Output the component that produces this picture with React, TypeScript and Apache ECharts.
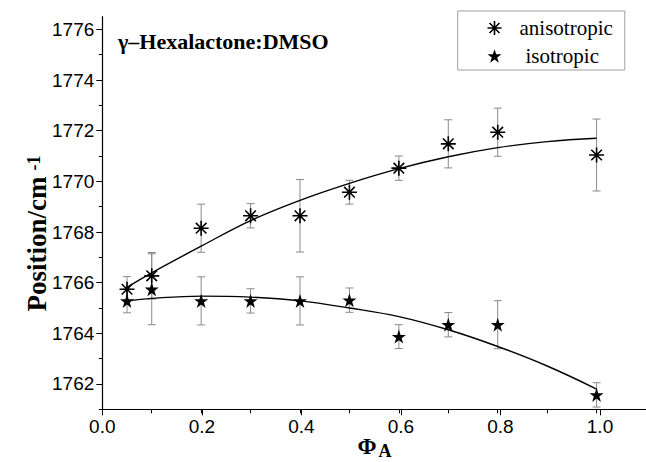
import React, { useEffect, useRef } from 'react';
import * as echarts from 'echarts';

// Volume fraction of component A
const phi = [0.05, 0.1, 0.2, 0.3, 0.4, 0.5, 0.6, 0.7, 0.8, 1.0];
// anisotropic band position (cm-1) and error
const aniso = [1765.74, 1766.27, 1768.15, 1768.64, 1768.64, 1769.57, 1770.52, 1771.48, 1771.94, 1771.04];
const anisoErr = [0.5, 0.92, 0.95, 0.48, 1.43, 0.47, 0.48, 0.95, 0.95, 1.42];
// isotropic band position (cm-1) and error
const iso = [1765.28, 1765.74, 1765.28, 1765.28, 1765.28, 1765.31, 1763.87, 1764.34, 1764.34, 1761.57];
const isoErr = [0.47, 1.4, 0.95, 0.48, 0.95, 0.48, 0.47, 0.48, 0.95, 0.48];
// fitted curves
const fitPhi = [0.05, 0.1, 0.2, 0.3, 0.4, 0.5, 0.6, 0.7, 0.8, 0.9, 1.0];
const anisoFit = [1765.82, 1766.39, 1767.44, 1768.45, 1769.25, 1769.92, 1770.5, 1770.97, 1771.33, 1771.57, 1771.7];
const isoFit = [1765.28, 1765.38, 1765.47, 1765.43, 1765.28, 1765.0, 1764.66, 1764.14, 1763.48, 1762.71, 1761.8];

const seriesNames = ['anisotropic', 'isotropic'];
const titleText = '\u03b3\u2013Hexalactone:DMSO';

const ASTERISK = 'path://M10,0L10,20M0,10L20,10M2.93,2.93L17.07,17.07M2.93,17.07L17.07,2.93';
const STAR = 'path://M10,0L12.35,7.1L19.8,7.1L13.8,11.6L16.1,18.8L10,14.3L3.9,18.8L6.2,11.6L0.2,7.1L7.65,7.1Z';

const SANS = '"Liberation Sans", Arial, sans-serif';
const SERIF = '"Liberation Serif", "Times New Roman", serif';

// layout
const L = 102.3;
const PXX = 497.7; // px per unit x
const PXY = 25.33; // px per unit y
const T0 = 16.7;

function errorBar(values: number[], errs: number[]) {
  return phi.map((x, i) => [x, values[i] - errs[i], values[i] + errs[i]]);
}

function renderErr(params: any, api: any) {
  const x = api.value(0);
  const lo = api.coord([x, api.value(1)]);
  const hi = api.coord([x, api.value(2)]);
  const w = 4;
  const style = { stroke: '#8a8a8a', lineWidth: 1, fill: null };
  return {
    type: 'group',
    children: [
      { type: 'line', shape: { x1: lo[0], y1: lo[1], x2: hi[0], y2: hi[1] }, style },
      { type: 'line', shape: { x1: lo[0] - w, y1: lo[1], x2: lo[0] + w, y2: lo[1] }, style },
      { type: 'line', shape: { x1: hi[0] - w, y1: hi[1], x2: hi[0] + w, y2: hi[1] }, style },
    ],
  };
}

export default function App() {
  const ref = useRef<HTMLDivElement>(null);
  useEffect(() => {
    if (!ref.current) return;
    const chart = echarts.init(ref.current, null, { renderer: 'svg' });
    const axisLineStyle = { color: '#000', width: 1.2 };
    const tickStyle = { color: '#000', width: 1 };
    const option: any = {
      animation: false,
      backgroundColor: '#fff',
      grid: [
        { left: L, top: T0, width: 1.1 * PXX, height: 15.5 * PXY },
        { left: L, top: T0 + 0.5 * PXY, width: 1.1 * PXX, height: 15 * PXY },
        { left: L, top: T0 + 0.5 * PXY, width: 1.0 * PXX, height: 15 * PXY },
        { left: L, top: T0 + 0.5 * PXY, width: 1.1 * PXX, height: 14 * PXY },
      ],
      xAxis: [
        {
          gridIndex: 0, type: 'value', min: 0, max: 1.1,
          axisLine: { show: true, onZero: false, lineStyle: axisLineStyle },
          axisTick: { show: false }, axisLabel: { show: false }, splitLine: { show: false },
        },
        {
          gridIndex: 1, type: 'value', min: 0, max: 1.1, interval: 0.1,
          axisLine: { show: false, onZero: false },
          axisTick: { show: true, length: 4, lineStyle: tickStyle },
          axisLabel: { show: false }, splitLine: { show: false },
        },
        {
          gridIndex: 2, type: 'value', min: 0, max: 1.0, interval: 0.2,
          axisLine: { show: false, onZero: false },
          axisTick: { show: true, length: 6, lineStyle: tickStyle },
          axisLabel: {
            show: true, margin: 8, color: '#000', fontSize: 19, fontFamily: SANS,
            formatter: (v: number) => v.toFixed(1),
          },
          splitLine: { show: false },
        },
        { gridIndex: 3, type: 'value', min: 0, max: 1.1, show: false },
      ],
      yAxis: [
        {
          gridIndex: 0, type: 'value', min: 1761, max: 1776.5,
          axisLine: { show: true, onZero: false, lineStyle: axisLineStyle },
          axisTick: { show: false }, axisLabel: { show: false }, splitLine: { show: false },
        },
        {
          gridIndex: 1, type: 'value', min: 1761, max: 1776, interval: 1,
          axisLine: { show: false, onZero: false },
          axisTick: { show: true, length: 3.5, lineStyle: tickStyle },
          axisLabel: { show: false }, splitLine: { show: false },
        },
        { gridIndex: 2, type: 'value', min: 1761, max: 1776, show: false },
        {
          gridIndex: 3, type: 'value', min: 1762, max: 1776, interval: 2,
          axisLine: { show: false, onZero: false },
          axisTick: { show: true, length: 6, lineStyle: tickStyle },
          axisLabel: {
            show: true, margin: 8, color: '#000', fontSize: 19, fontFamily: SANS,
            formatter: (v: number) => String(Math.round(v)),
          },
          splitLine: { show: false },
        },
      ],
      legend: {
        orient: 'vertical',
        left: 457.7,
        top: 11,
        padding: [6, 12, 3, 29],
        itemGap: 6,
        itemWidth: 14,
        itemHeight: 14,
        borderColor: '#a0a0a0',
        borderWidth: 1,
        selectedMode: false,
        textStyle: { fontFamily: SERIF, fontSize: 21, color: '#000', lineHeight: 22 },
        data: [
          {
            name: seriesNames[0],
            icon: ASTERISK,
            itemStyle: { color: 'rgba(0,0,0,0)', borderColor: '#000', borderWidth: 1.6 },
            textStyle: { padding: [0, 0, 0, 13] },
          },
          {
            name: seriesNames[1],
            icon: STAR,
            itemStyle: { color: '#000', borderWidth: 0 },
            textStyle: { padding: [0, 0, 0, 19] },
          },
        ],
      },
      graphic: [
        {
          type: 'text', x: 118, y: 41,
          style: {
            text: titleText, fontFamily: SERIF, fontWeight: 'bold', fontSize: 22,
            fill: '#000', align: 'left', verticalAlign: 'middle',
          },
        },
        {
          type: 'text', x: 37, y: 244, rotation: Math.PI / 2,
          style: {
            text: 'Position/cm', fontFamily: SERIF, fontWeight: 'bold', fontSize: 27,
            fill: '#000', align: 'center', verticalAlign: 'middle',
          },
        },
        {
          type: 'text', x: 34, y: 163, rotation: Math.PI / 2,
          style: {
            text: '-1', fontFamily: SERIF, fontWeight: 'bold', fontSize: 18,
            fill: '#000', align: 'center', verticalAlign: 'middle',
          },
        },
        {
          type: 'text', x: 367, y: 446,
          style: {
            text: '\u03a6', fontFamily: SERIF, fontWeight: 'bold', fontSize: 23,
            fill: '#000', align: 'center', verticalAlign: 'middle',
          },
        },
        {
          type: 'text', x: 385, y: 451,
          style: {
            text: 'A', fontFamily: SERIF, fontWeight: 'bold', fontSize: 18,
            fill: '#000', align: 'center', verticalAlign: 'middle',
          },
        },
      ],
      series: [
        {
          type: 'custom', name: 'anisoErr', xAxisIndex: 0, yAxisIndex: 0,
          data: errorBar(aniso, anisoErr), renderItem: renderErr,
          encode: { x: 0, y: [1, 2] }, z: 1, silent: true,
        },
        {
          type: 'custom', name: 'isoErr', xAxisIndex: 0, yAxisIndex: 0,
          data: errorBar(iso, isoErr), renderItem: renderErr,
          encode: { x: 0, y: [1, 2] }, z: 1, silent: true,
        },
        {
          type: 'line', name: 'anisoFit', xAxisIndex: 0, yAxisIndex: 0,
          data: fitPhi.map((x, i) => [x, anisoFit[i]]),
          smooth: 0.4, showSymbol: false, symbol: 'none',
          lineStyle: { color: '#000', width: 1.4 }, z: 2, silent: true,
        },
        {
          type: 'line', name: 'isoFit', xAxisIndex: 0, yAxisIndex: 0,
          data: fitPhi.map((x, i) => [x, isoFit[i]]),
          smooth: 0.4, showSymbol: false, symbol: 'none',
          lineStyle: { color: '#000', width: 1.4 }, z: 2, silent: true,
        },
        {
          type: 'scatter', name: seriesNames[0], xAxisIndex: 0, yAxisIndex: 0,
          data: phi.map((x, i) => [x, aniso[i]]),
          symbol: ASTERISK, symbolSize: 15,
          itemStyle: { color: 'rgba(0,0,0,0)', borderColor: '#000', borderWidth: 1.6, opacity: 1 },
          z: 3, silent: true,
        },
        {
          type: 'scatter', name: seriesNames[1], xAxisIndex: 0, yAxisIndex: 0,
          data: phi.map((x, i) => [x, iso[i]]),
          symbol: STAR, symbolSize: 14,
          itemStyle: { color: '#000', opacity: 1 },
          z: 3, silent: true,
        },
      ],
    };
    chart.setOption(option);
    return () => chart.dispose();
  }, []);
  return (
    <div
      ref={ref}
      style={{ position: 'absolute', left: 0, top: 0, width: 646, height: 462, background: '#fff' }}
    />
  );
}
